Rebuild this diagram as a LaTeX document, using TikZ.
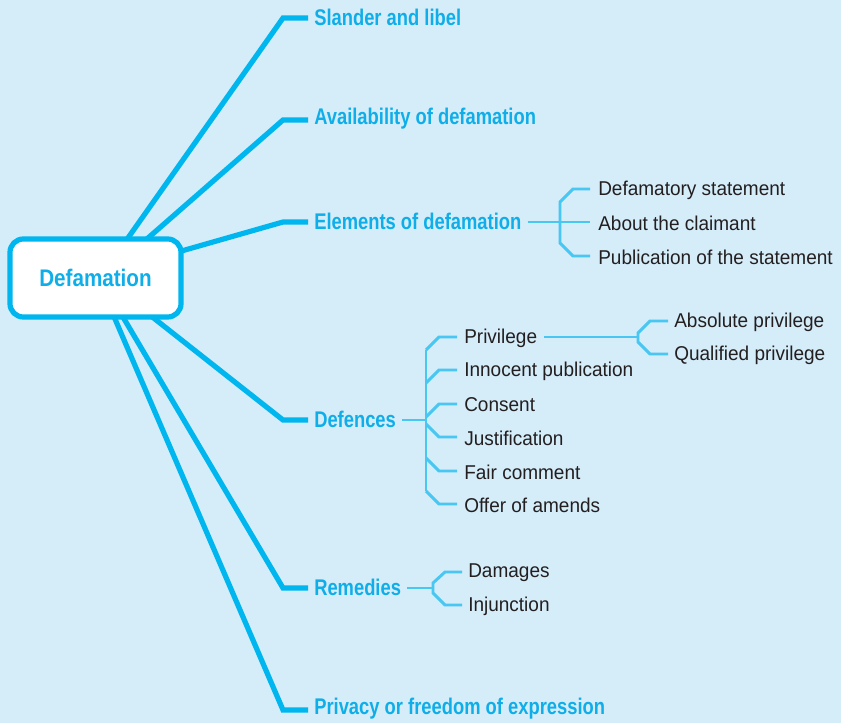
\documentclass[tikz,border=0pt]{standalone}
\usepackage{fontspec}
\setmainfont[FakeStretch=0.95]{Liberation Sans}
\newfontfamily\headfont[FakeStretch=0.81]{Liberation Sans}
\newfontfamily\centrefont[FakeStretch=0.86]{Liberation Sans}
\usetikzlibrary{calc}
\definecolor{bgc}{HTML}{D5ECF9}
\definecolor{mainc}{HTML}{00B6EE}
\definecolor{thinc}{HTML}{48C7F2}
\definecolor{headc}{HTML}{0FAEE8}
\definecolor{txtc}{HTML}{231F20}
\tikzset{
  mainline/.style={draw=mainc, line width=3.9pt, line join=miter},
  thinline/.style={draw=thinc, line width=2.2pt, line join=miter},
  head/.style={anchor=west, inner sep=0pt, text=headc, font=\headfont\fontsize{17}{19}\selectfont\bfseries},
  leaf/.style={anchor=west, inner sep=0pt, text=txtc, font=\fontsize{15}{17}\selectfont},
  centrebox/.style={draw=mainc, line width=3.9pt, fill=white, rounded corners=10pt,
     minimum width=171*0.75pt, minimum height=78*0.75pt, text=headc,
     font=\centrefont\fontsize{18}{20}\selectfont\bfseries}
}
\begin{document}
\begin{tikzpicture}[x=0.75pt,y=-0.75pt]
\fill[bgc] (0,0) rectangle (841,723);
\useasboundingbox (0,0) rectangle (841,723);

% heads
\node[head] (h1) at (314,17) {Slander and libel};
\node[head] (h2) at (314,119) {Availability of defamation};
\node[head] (h3) at (314,221) {Elements of defamation};
\node[head] (h4) at (314,419) {Defences};
\node[head] (h5) at (314,587) {Remedies};
\node[head] (h6) at (314,709) {Privacy or freedom of expression};

% start points on box
\coordinate (s1) at (123,245);
\coordinate (s2) at (140,245);
\coordinate (s3) at (178,252);
\coordinate (s4) at (146,312);
\coordinate (s5) at (120,312);
\coordinate (s6) at (112,312);
% kinks
\coordinate (k1) at (283,18);
\coordinate (k2) at (283,120);
\coordinate (k3) at (283,222);
\coordinate (k4) at (283,420);
\coordinate (k5) at (283,588);
\coordinate (k6) at (283,710);

\foreach \i in {1,...,6}{
  \draw[mainline] (s\i) -- (k\i) -- (308,0 |- k\i);
}

\node[centrebox] (def) at (95.5,278) {Defamation};

% Elements
\node[leaf] (e1) at (598,190) {Defamatory statement};
\node[leaf] (e2) at (598,223) {About the claimant};
\node[leaf] (e3) at (598,257) {Publication of the statement};
\coordinate (eb) at (560,222);
\coordinate (ebt) at (560,202);
\coordinate (ebb) at (560,243);
\draw[thinline] ($(h3.east)+(6,1)$) -- (eb);
\draw[thinline] (590,189) -- ($(ebt)+(13,-13)$) -- (ebt) -- (ebb) -- ($(ebb)+(13,13)$) -- (590,256);
\draw[thinline] (eb) -- (590,222);

% Defences
\node[leaf] (d1) at (464,338) {Privilege};
\node[leaf] (d2) at (464,371) {Innocent publication};
\node[leaf] (d3) at (464,405) {Consent};
\node[leaf] (d4) at (464,438) {Justification};
\node[leaf] (d5) at (464,472) {Fair comment};
\node[leaf] (d6) at (464,505) {Offer of amends};
\coordinate (db) at (426,420);
\draw[thinline] ($(h4.east)+(6,1)$) -- (db);
\draw[thinline] (426,350) -- (426,491);
\foreach \i/\y/\d in {1/337/13, 2/370/13, 3/404/13, 4/437/-13, 5/471/-13, 6/504/-13}{
  \draw[thinline] (457,\y) -- (439,\y) -- ++(-13,\d);
}

% Privilege sub
\node[leaf] (p1) at (674,322) {Absolute privilege};
\node[leaf] (p2) at (674,355) {Qualified privilege};
\coordinate (pb) at (638,337);
\draw[thinline] ($(d1.east)+(7,-1)$) -- (pb);
\draw[thinline] (668,321) -- (650,321) -- (638,333) -- (638,342) -- (650,354) -- (668,354);

% Remedies
\node[leaf] (r1) at (468,573) {Damages};
\node[leaf] (r2) at (468,606) {Injunction};
\coordinate (rb) at (433,588);
\draw[thinline] ($(h5.east)+(6,1)$) -- (rb);
\draw[thinline] (462,572) -- (445,572) -- (433,583) -- (433,593) -- (445,605) -- (462,605);
\end{tikzpicture}
\end{document}
